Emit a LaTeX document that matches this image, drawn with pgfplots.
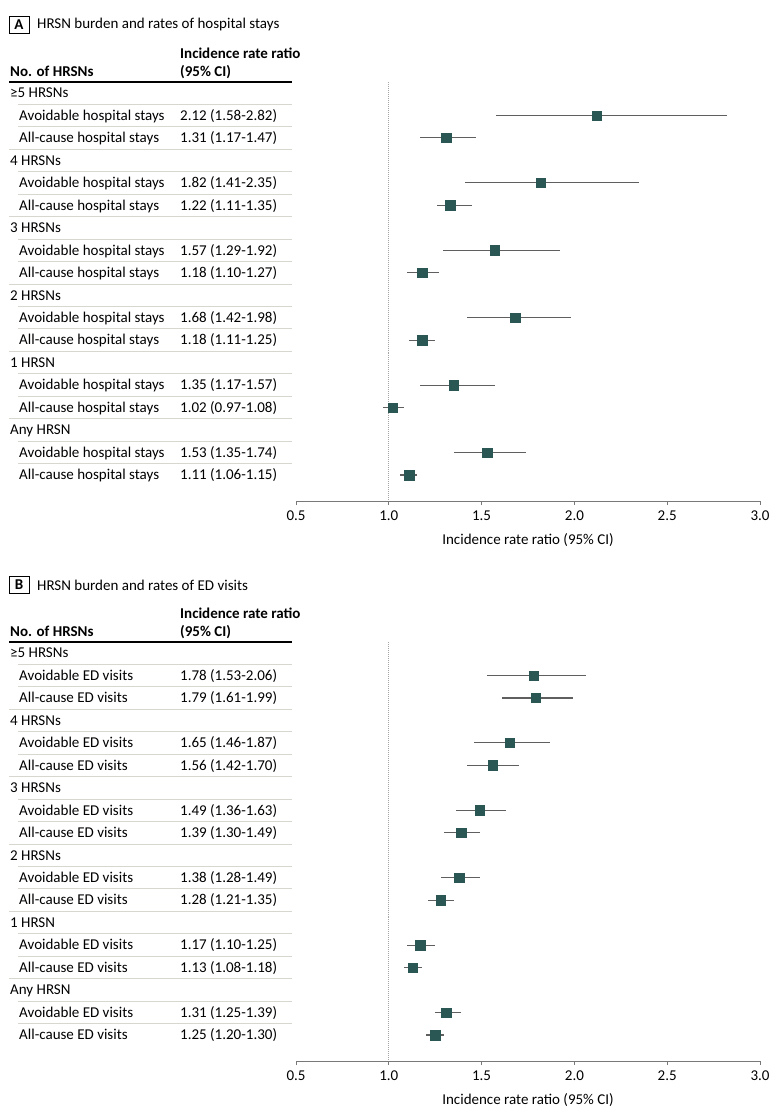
\documentclass[border=0pt]{standalone}
\usepackage{fontspec}
\setmainfont{Carlito}
\usepackage{pgfplots}
\pgfplotsset{compat=1.18}
\usepackage{pgfplotstable}
\definecolor{mk}{RGB}{42,86,84}
\definecolor{ci}{RGB}{95,95,95}
\definecolor{sep}{RGB}{215,215,208}
\definecolor{axg}{RGB}{120,120,120}
\definecolor{dotg}{RGB}{165,165,165}

\pgfplotstableread{
row est lo hi
-1 2.12 1.58 2.82
-2 1.31 1.17 1.47
-4 1.82 1.41 2.35
-5 1.33 1.26 1.45
-7 1.57 1.29 1.92
-8 1.18 1.10 1.27
-10 1.68 1.42 1.98
-11 1.18 1.11 1.25
-13 1.35 1.17 1.57
-14 1.02 0.97 1.08
-16 1.53 1.35 1.74
-17 1.11 1.06 1.15
}\dataA

\pgfplotstableread{
row est lo hi
-1 1.78 1.53 2.06
-2 1.79 1.61 1.99
-4 1.65 1.46 1.87
-5 1.56 1.42 1.70
-7 1.49 1.36 1.63
-8 1.39 1.30 1.49
-10 1.38 1.28 1.49
-11 1.28 1.21 1.35
-13 1.17 1.10 1.25
-14 1.13 1.08 1.18
-16 1.31 1.25 1.39
-17 1.25 1.20 1.30
}\dataB

\newcommand{\fs}{\fontsize{15bp}{18bp}\selectfont}

\pgfplotsset{forest/.style={
  scale only axis, width=464bp, height=419bp,
  xmin=0.5, xmax=3.0, ymin=-18.157, ymax=0.4896,
  axis x line=bottom, axis y line=none,
  x axis line style={-, draw=axg, line width=1bp},
  xtick={0.5,1,1.5,2,2.5,3},
  xticklabel style={font=\fs, yshift=-2bp, /pgf/number format/.cd, fixed, fixed zerofill, precision=1, assume math mode=true},
  tick align=outside, major tick length=4bp,
  tick style={draw=axg, line width=0.8bp},
  xlabel={Incidence rate ratio (95\% CI)},
  xlabel style={font=\fs, yshift=-6bp},
  clip=false,
  anchor=south west,
}}

\newcommand{\tablepart}[4]{%
  \draw[line width=0.9bp] (9,16.5) rectangle (29,33.5);
  \node[font=\fs\bfseries, inner sep=0] at (19,25) {#1};
  \node[anchor=west, inner sep=0, font=\fs] at (37,25) {#2};
  \node[anchor=base west, inner sep=0, font=\fs\bfseries] at (180,58) {Incidence rate ratio};
  \node[anchor=base west, inner sep=0, font=\fs\bfseries] at (180,76) {(95\% CI)};
  \node[anchor=base west, inner sep=0, font=\fs\bfseries] at (10,76) {No. of HRSNs};
  \draw[line width=1.4bp] (9,82) -- (292,82);
  \foreach \i/\t in {0/≥5 HRSNs,3/4 HRSNs,6/3 HRSNs,9/2 HRSNs,12/1 HRSN,15/Any HRSN}
    \node[anchor=base west, inner sep=0, font=\fs] at (10,{93+22.47*\i+4.8}) {\t};
  \foreach \i in {1,4,7,10,13,16}
    \node[anchor=base west, inner sep=0, font=\fs] at (19,{93+22.47*\i+4.8}) {#3};
  \foreach \i in {2,5,8,11,14,17}
    \node[anchor=base west, inner sep=0, font=\fs] at (19,{93+22.47*\i+4.8}) {#4};
  \foreach \i in {0,1,3,4,6,7,9,10,12,13,15,16}
    \draw[sep, line width=0.9bp] (18,{93+22.47*\i+11.24}) -- (292,{93+22.47*\i+11.24});
  \foreach \i in {2,5,8,11,14}
    \draw[sep, line width=0.9bp] (9,{93+22.47*\i+11.24}) -- (292,{93+22.47*\i+11.24});
}

\newcommand{\vals}[1]{%
  \foreach \i/\v in {#1}
    \node[anchor=base west, inner sep=0, font=\fs] at (180,{93+22.47*\i+4.8}) {\v};
}

\begin{document}
\begin{tikzpicture}
\useasboundingbox (0bp,0bp) rectangle (780bp,-1113bp);

\begin{scope}[x=1bp, y=-1bp]
  \tablepart{A}{HRSN burden and rates of hospital stays}{Avoidable hospital stays}{All-cause hospital stays}
  \vals{1/2.12 (1.58-2.82),2/1.31 (1.17-1.47),4/1.82 (1.41-2.35),5/1.22 (1.11-1.35),7/1.57 (1.29-1.92),8/1.18 (1.10-1.27),10/1.68 (1.42-1.98),11/1.18 (1.11-1.25),13/1.35 (1.17-1.57),14/1.02 (0.97-1.08),16/1.53 (1.35-1.74),17/1.11 (1.06-1.15)}
\end{scope}

\begin{scope}[x=1bp, y=-1bp, shift={(0,560)}]
  \tablepart{B}{HRSN burden and rates of ED visits}{Avoidable ED visits}{All-cause ED visits}
  \vals{1/1.78 (1.53-2.06),2/1.79 (1.61-1.99),4/1.65 (1.46-1.87),5/1.56 (1.42-1.70),7/1.49 (1.36-1.63),8/1.39 (1.30-1.49),10/1.38 (1.28-1.49),11/1.28 (1.21-1.35),13/1.17 (1.10-1.25),14/1.13 (1.08-1.18),16/1.31 (1.25-1.39),17/1.25 (1.20-1.30)}
\end{scope}

\begin{axis}[forest, at={(296bp,-501bp)}]
  \addplot[dotg, densely dotted, line width=1bp] coordinates {(1,0.4896) (1,-18.157)};
  \addplot[draw=none, mark=none, error bars/.cd, x dir=both, x explicit, error mark=none,
    error bar style={ci, line width=1.1bp}]
    table[x=est, y=row, x error plus expr=\thisrow{hi}-\thisrow{est}, x error minus expr=\thisrow{est}-\thisrow{lo}] {\dataA};
  \addplot[only marks, mark=square*, mark size=4.7bp, mark options={fill=mk, draw=mk}]
    table[x=est, y=row] {\dataA};
\end{axis}

\begin{axis}[forest, at={(296bp,-1061bp)}]
  \addplot[dotg, densely dotted, line width=1bp] coordinates {(1,0.4896) (1,-18.157)};
  \addplot[draw=none, mark=none, error bars/.cd, x dir=both, x explicit, error mark=none,
    error bar style={ci, line width=1.1bp}]
    table[x=est, y=row, x error plus expr=\thisrow{hi}-\thisrow{est}, x error minus expr=\thisrow{est}-\thisrow{lo}] {\dataB};
  \addplot[only marks, mark=square*, mark size=4.7bp, mark options={fill=mk, draw=mk}]
    table[x=est, y=row] {\dataB};
\end{axis}
\end{tikzpicture}
\end{document}
